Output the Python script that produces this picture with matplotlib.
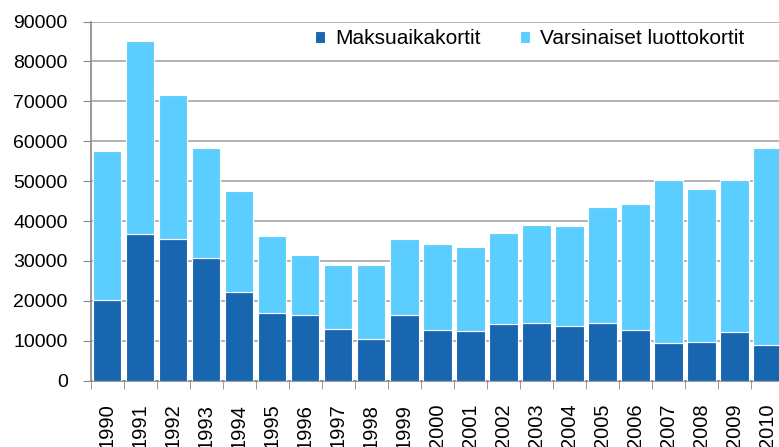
import numpy as np
import matplotlib
matplotlib.use("Agg")
import matplotlib.pyplot as plt
from matplotlib.ticker import MultipleLocator

plt.rcParams["font.family"] = ["Liberation Sans", "DejaVu Sans"]

years = [str(y) for y in range(1990, 2011)]

# Maksuaikakortit (bottom segment)
maksuaika = [20100, 36700, 35400, 30700, 22200, 17000, 16500, 12900, 10500, 16500,
             12600, 12500, 14100, 14500, 13800, 14500, 12600, 9400, 9700, 12100, 8900]

# Varsinaiset luottokortit (top segment)
luotto = [37500, 48300, 36200, 27700, 25300, 19300, 14900, 16100, 18500, 18900,
          21600, 20900, 22900, 24500, 24900, 29000, 31700, 40900, 38300, 38200, 49500]

DARK = "#1866AF"
LIGHT = "#5BCEFF"
GRID = "#A6A6A6"

fig = plt.figure(figsize=(7.79, 4.47), dpi=100)
ax = fig.add_axes([0.1164, 0.1483, 0.890, 0.8036])

x = np.arange(len(years))
ax.bar(x, maksuaika, width=0.86, color=DARK, edgecolor="white", linewidth=0.8,
       label="Maksuaikakortit", zorder=3)
ax.bar(x, luotto, width=0.86, bottom=maksuaika, color=LIGHT, edgecolor="white",
       linewidth=0.8, label="Varsinaiset luottokortit", zorder=3)

ax.set_xlim(-0.5, len(years) - 0.5)
ax.set_ylim(0, 90000)
ax.yaxis.set_major_locator(MultipleLocator(10000))
ax.grid(axis="y", color=GRID, linewidth=1.2, zorder=0)

# category labels centred, tick marks between categories
ax.set_xticks(x)
ax.set_xticklabels(years, rotation=90, fontsize=14.5)
ax.set_xticks(np.arange(-0.5, len(years)), minor=True)
ax.tick_params(axis="x", which="major", length=0, pad=16.5)
ax.tick_params(axis="x", which="minor", length=5.5, color="#888888", direction="out")
ax.tick_params(axis="y", length=5.5, color="#888888", labelsize=14, pad=11)

for side in ["top", "right"]:
    ax.spines[side].set_visible(False)
for side in ["left", "bottom"]:
    ax.spines[side].set_color("#888888")
    ax.spines[side].set_linewidth(1.2)

ax.legend(loc="center left", bbox_to_anchor=(315 / 779, 1 - 39 / 447),
          bbox_transform=fig.transFigure, ncol=2, frameon=False,
          fontsize=15, handlelength=0.5, handleheight=0.5, handletextpad=0.45,
          columnspacing=1.9, borderpad=0, borderaxespad=0)

fig.savefig("out.png", dpi=100)
